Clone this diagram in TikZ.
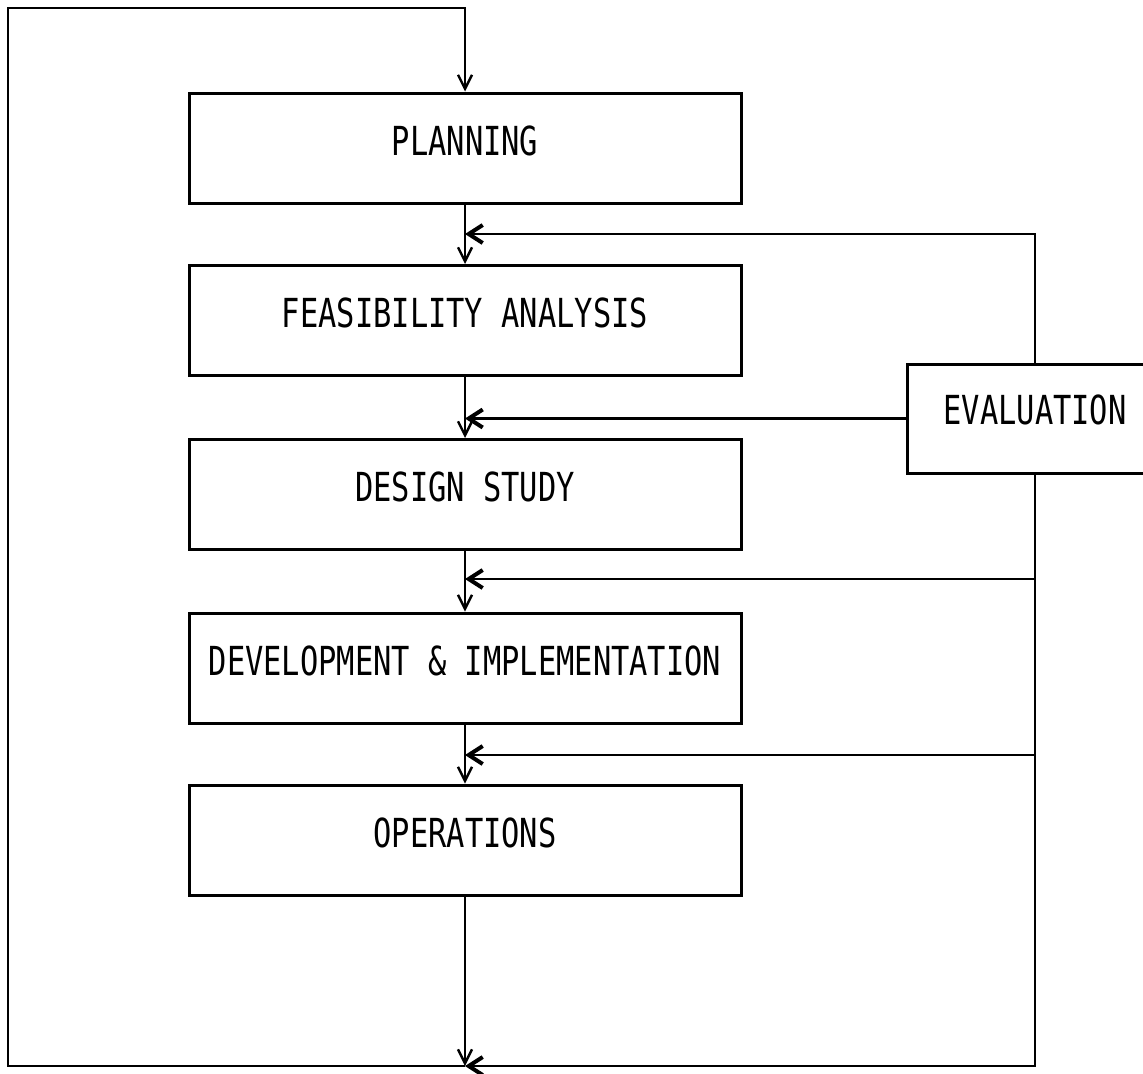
\documentclass[tikz,border=0pt]{standalone}
\usepackage{fontspec}
\newfontfamily\tw[FakeStretch=0.76]{DejaVu Sans Mono}
\usetikzlibrary{arrows.meta}
\begin{document}
\begin{tikzpicture}[x=0.5pt,y=-0.5pt,
  stage/.style={draw,line width=1.5pt,minimum width=276pt,minimum height=55pt,inner sep=0pt,
    font=\tw\fontsize{20}{20}\selectfont,text height=14.6pt,text depth=7.6pt},
  conn/.style={line width=1.3pt,line join=miter},
  down/.style={conn,-{Straight Barb[length=7pt,width=7pt,line width=1.2pt]}},
  fb/.style={conn,-{Straight Barb[length=7pt,width=9pt,line width=2pt]}}]
\useasboundingbox (0,0) rectangle (1143,1073);
\clip (0,0) rectangle (1143,1073);

% stages
\node[stage] (plan)   at (465,148)   {PLANNING};
\node[stage] (feas)   at (465,320.5) {FEASIBILITY ANALYSIS};
\node[stage] (design) at (465,494.5) {DESIGN STUDY};
\node[stage] (dev)    at (465,668)   {DEVELOPMENT \& IMPLEMENTATION};
\node[stage] (ops)    at (465,840)   {OPERATIONS};
\node[stage,minimum width=128pt,minimum height=54.5pt,text depth=9pt] (eval) at (1035,418.5) {EVALUATION};

% coordinates of the loop
\coordinate (tl) at (8,8);
\coordinate (bl) at (8,1066);
\coordinate (bj) at (465,1066);
\coordinate (br) at (1035,1066);
\coordinate (r1) at (1035,234);
\coordinate (r3) at (1035,579);
\coordinate (r4) at (1035,755);

% forward flow
\draw[down] (plan.south) -- (feas.north);
\draw[down] (feas.south) -- (design.north);
\draw[down] (design.south) -- (dev.north);
\draw[down] (dev.south) -- (ops.north);
\draw[down] (ops.south) -- (bj);

% outer loop back to planning
\draw[down] (bj) -- (bl) -- (tl) -- (tl -| plan.north) -- (plan.north);

% evaluation feedback
\draw[fb] (eval.north) -- (r1) -- (r1 -| plan.south);
\draw[fb] (eval.west) -- (eval.west -| feas.south);
\draw[fb] (r3) -- (r3 -| design.south);
\draw[fb] (r4) -- (r4 -| dev.south);
\draw[fb] (eval.south) -- (br) -- (bj);
\end{tikzpicture}
\end{document}
